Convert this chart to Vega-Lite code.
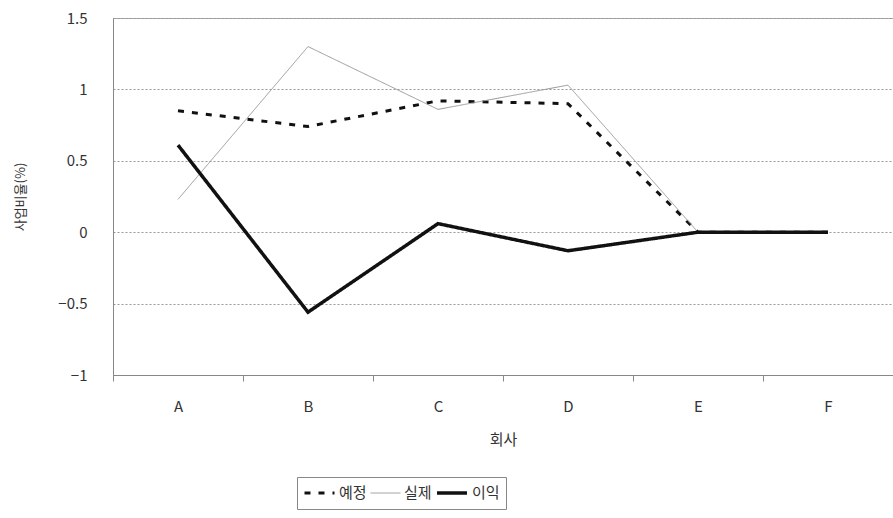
{
  "$schema": "https://vega.github.io/schema/vega-lite/v6.json",
  "width": 780,
  "height": 357,
  "autosize": {"type": "none"},
  "padding": {"left": 113, "top": 18, "right": 0, "bottom": 143},
  "background": "white",
  "config": {
    "view": {"stroke": "#aaaaaa", "strokeWidth": 1},
    "font": "Noto Sans CJK KR"
  },
  "data": {
    "values": [
      {"회사": "A", "series": "예정", "value": 0.85},
      {"회사": "B", "series": "예정", "value": 0.74},
      {"회사": "C", "series": "예정", "value": 0.92},
      {"회사": "D", "series": "예정", "value": 0.9},
      {"회사": "E", "series": "예정", "value": 0},
      {"회사": "F", "series": "예정", "value": 0},
      {"회사": "A", "series": "실제", "value": 0.23},
      {"회사": "B", "series": "실제", "value": 1.3},
      {"회사": "C", "series": "실제", "value": 0.86},
      {"회사": "D", "series": "실제", "value": 1.03},
      {"회사": "E", "series": "실제", "value": 0},
      {"회사": "F", "series": "실제", "value": 0},
      {"회사": "A", "series": "이익", "value": 0.61},
      {"회사": "B", "series": "이익", "value": -0.56},
      {"회사": "C", "series": "이익", "value": 0.06},
      {"회사": "D", "series": "이익", "value": -0.13},
      {"회사": "E", "series": "이익", "value": 0},
      {"회사": "F", "series": "이익", "value": 0}
    ]
  },
  "mark": {"type": "line", "strokeCap": "butt"},
  "encoding": {
    "x": {
      "field": "회사",
      "type": "nominal",
      "scale": {"type": "band", "paddingInner": 0, "paddingOuter": 0},
      "axis": {
        "title": "회사",
        "labelAngle": 0,
        "tickBand": "extent",
        "grid": false,
        "domainColor": "#888888",
        "tickColor": "#888888",
        "tickSize": 6,
        "labelFontSize": 15,
        "labelColor": "#333333",
        "labelPadding": 18,
        "titleFontSize": 15,
        "titleFontWeight": "normal",
        "titleColor": "#333333",
        "titlePadding": 18
      }
    },
    "y": {
      "field": "value",
      "type": "quantitative",
      "scale": {"domain": [-1, 1.5], "nice": false, "zero": false},
      "axis": {
        "title": "사업비율(%)",
        "values": [-1, -0.5, 0, 0.5, 1, 1.5],
        "format": "~g",
        "labelExpr": "replace(datum.label, '-', '−')",
        "grid": true,
        "gridColor": "#999999",
        "gridDash": [2, 2],
        "gridWidth": 1,
        "ticks": false,
        "domainColor": "#888888",
        "labelFontSize": 15,
        "labelColor": "#333333",
        "labelPadding": 26,
        "titleFontSize": 13,
        "titleFontWeight": "normal",
        "titleColor": "#333333",
        "titlePadding": 30
      }
    },
    "color": {
      "field": "series",
      "type": "nominal",
      "sort": ["예정", "실제", "이익"],
      "scale": {"domain": ["예정", "실제", "이익"], "range": ["#111111", "#999999", "#111111"]},
      "legend": {
        "title": null,
        "orient": "none",
        "legendX": 184,
        "legendY": 459,
        "direction": "horizontal",
        "symbolType": "stroke",
        "symbolSize": 900,
        "clipHeight": 20,
        "labelFontSize": 15,
        "labelColor": "#333333",
        "strokeColor": "#888888",
        "padding": 6,
        "columnPadding": 3,
        "labelOffset": 3
      }
    },
    "strokeDash": {
      "field": "series",
      "type": "nominal",
      "sort": ["예정", "실제", "이익"],
      "scale": {"domain": ["예정", "실제", "이익"], "range": [[6, 8], [1, 0], [1, 0]]}
    },
    "strokeWidth": {
      "field": "series",
      "type": "nominal",
      "sort": ["예정", "실제", "이익"],
      "scale": {"type": "ordinal", "domain": ["예정", "실제", "이익"], "range": [3, 1, 3.5]}
    }
  }
}
